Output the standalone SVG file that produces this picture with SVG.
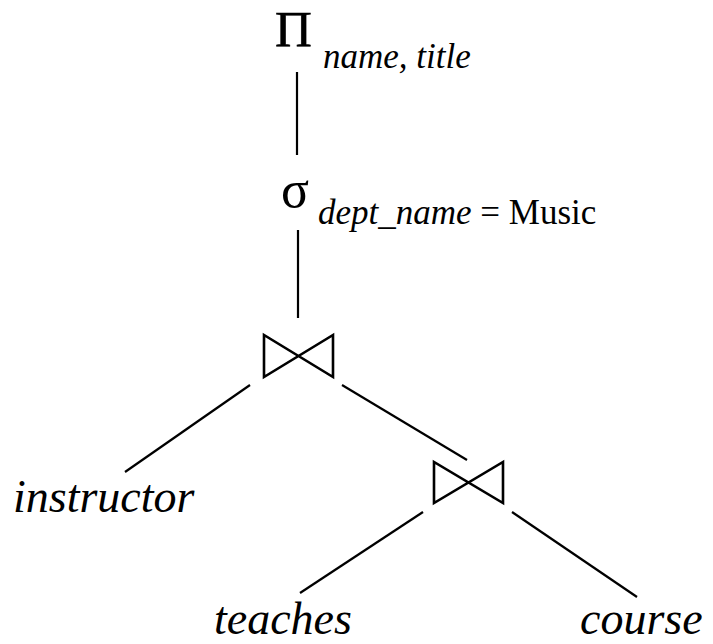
<svg xmlns="http://www.w3.org/2000/svg" width="713" height="644" viewBox="0 0 713 644">
<style>
.op{font-family:"Liberation Serif",serif;fill:#000}
.sub{font-family:"Liberation Serif",serif;font-size:35px;fill:#000}
.it{font-style:italic}
.rel{font-family:"Liberation Serif",serif;font-style:italic;font-size:46px;fill:#000}
.edge{stroke:#000;stroke-width:2.2;fill:none}
.bow{stroke:#000;stroke-width:2.6;fill:none;stroke-linejoin:miter}
</style>
<rect width="713" height="644" fill="#fff"/>
<g id="connectors">
<line class="edge" x1="297" y1="72" x2="297" y2="155"/>
<line class="edge" x1="298" y1="230" x2="298" y2="318"/>
<line class="edge" x1="250" y1="385" x2="125" y2="472"/>
<line class="edge" x1="342" y1="385" x2="467" y2="460"/>
<line class="edge" x1="423" y1="512" x2="300" y2="593"/>
<line class="edge" x1="512" y1="512" x2="637" y2="597"/>
</g>
<g id="project">
<text class="op" x="275" y="46" font-size="51" stroke="#000" stroke-width="0.6">Π</text>
<text class="sub it" x="323" y="68">name, title</text>
</g>
<g id="select">
<text class="op" x="281" y="207" font-size="52">σ</text>
<text class="sub" x="318" y="224"><tspan class="it">dept_name</tspan> = Music</text>
</g>
<g id="join1">
<path class="bow" d="M264,335 L264,377 L333,335 L333,377 Z"/>
</g>
<g id="join2">
<path class="bow" d="M434,462 L434,503 L503,462 L503,503 Z"/>
</g>
<g id="instructor">
<text class="rel" x="13" y="512" font-size="47">instructor</text>
</g>
<g id="teaches">
<text class="rel" x="214" y="634">teaches</text>
</g>
<g id="course">
<text class="rel" x="580" y="634">course</text>
</g>
</svg>
